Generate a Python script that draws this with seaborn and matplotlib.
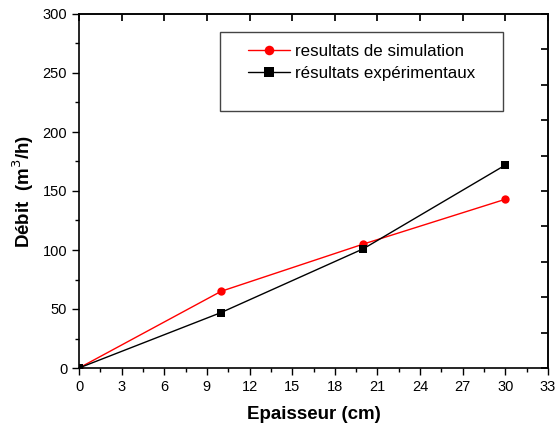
import matplotlib.pyplot as plt
import seaborn as sns
import pandas as pd
from matplotlib.ticker import MultipleLocator
from matplotlib.patches import Rectangle

sns.set_theme(style="ticks")
plt.rcParams['font.family'] = ['Liberation Sans', 'DejaVu Sans']

# données
epaisseur = [0, 10, 20, 30]
debit_sim = [0, 65, 105, 143]
debit_exp = [0, 47, 101, 172]
label_sim = 'resultats de simulation'
label_exp = 'résultats expérimentaux'

df = pd.DataFrame({
    'x': epaisseur * 2,
    'y': debit_sim + debit_exp,
    'serie': [label_sim] * len(epaisseur) + [label_exp] * len(epaisseur),
})

W, H = 560, 429
fig = plt.figure(figsize=(W / 100, H / 100), dpi=100)
ax = fig.add_axes([79 / W, 1 - 368 / H, 469 / W, 354 / H])

sns.lineplot(data=df, x='x', y='y', hue='serie', style='serie',
             palette={label_sim: 'red', label_exp: 'black'},
             markers={label_sim: 'o', label_exp: 's'}, dashes=False,
             markersize=6, markeredgewidth=0, linewidth=1, ax=ax)

ax.set_xlim(0, 33)
ax.set_ylim(0, 300)
ax.xaxis.set_major_locator(MultipleLocator(3))
ax.xaxis.set_minor_locator(MultipleLocator(1.5))
ax.yaxis.set_major_locator(MultipleLocator(50))
ax.yaxis.set_minor_locator(MultipleLocator(25))
ax.tick_params(which='major', direction='out', length=5, width=1, labelsize=10.5, colors='black')
ax.tick_params(which='minor', direction='out', length=3, width=1, colors='black')
for s in ax.spines.values():
    s.set_color('black')
    s.set_linewidth(1.2)

# axes secondaires (haut et droite)
ax_top = ax.secondary_xaxis('top')
ax_top.xaxis.set_major_locator(MultipleLocator(3))
ax_top.tick_params(direction='in', length=5, labeltop=False, colors='black')
ax_top.spines['top'].set_linewidth(1.2)
ax_right = ax.secondary_yaxis('right')
ax_right.yaxis.set_major_locator(MultipleLocator(30))
ax_right.tick_params(direction='in', length=5, labelright=False, colors='black')
ax_right.spines['right'].set_linewidth(1.2)

ax.set_xlabel('Epaisseur (cm)', fontsize=13.5, fontweight='bold', labelpad=9, color='black')
ax.set_ylabel('Débit  (m$^3$/h)', fontsize=13.5, fontweight='bold', labelpad=5, color='black')

# légende (cadre dessiné à part, plus grand que le contenu)
leg = ax.legend(loc='upper left', bbox_to_anchor=(248 / W, 1 - 44 / H),
                bbox_transform=fig.transFigure, fontsize=12.2, frameon=False,
                borderpad=0, labelspacing=0.42, handlelength=2.5,
                handletextpad=0.3, borderaxespad=0, markerscale=1.15)
for t in leg.get_texts():
    t.set_color('black')
fig.add_artist(Rectangle((220 / W, 1 - 111 / H), 283 / W, 79 / H,
                         transform=fig.transFigure, fill=False,
                         edgecolor='#444444', linewidth=1))

fig.savefig('out.png', dpi=100)
